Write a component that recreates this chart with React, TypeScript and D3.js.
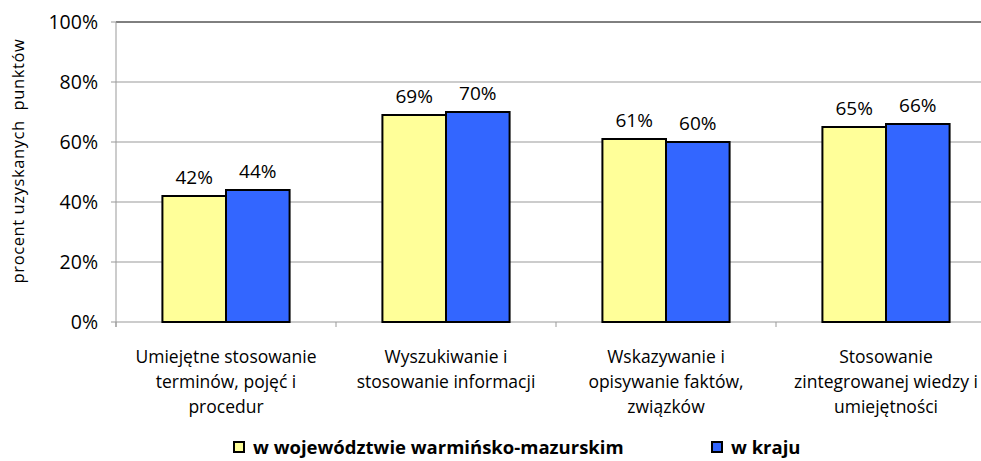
import * as d3 from "d3";

const categories = [
  ["Umiejętne stosowanie", "terminów, pojęć i", "procedur"],
  ["Wyszukiwanie i", "stosowanie informacji"],
  ["Wskazywanie i", "opisywanie faktów,", "związków"],
  ["Stosowanie", "zintegrowanej wiedzy i", "umiejętności"],
];
const seriesNames = ["w województwie warmińsko-mazurskim", "w kraju"];
const regionValues = [42, 69, 61, 65];
const countryValues = [44, 70, 60, 66];
const yTicks = [0, 20, 40, 60, 80, 100];
const colors = ["#FFFF99", "#3366FF"];

const W = 981;
const H = 461;
const FONT = "'Open Sans', 'Noto Sans', sans-serif";

export default function App() {
  const left = 116;
  const right = 996;
  const top = 22;
  const bottom = 322;

  const x = d3
    .scaleBand<number>()
    .domain(d3.range(categories.length))
    .range([left, right])
    .paddingInner(0)
    .paddingOuter(0);
  const y = d3.scaleLinear().domain([0, 100]).range([bottom, top]);
  const inner = d3
    .scaleBand<number>()
    .domain([0, 1])
    .range([0, x.bandwidth()])
    .paddingOuter(0.73)
    .paddingInner(0);

  const series = [regionValues, countryValues];
  const legendX = [234, 712];

  return (
    <svg
      width={W}
      height={H}
      style={{ position: "absolute", left: 0, top: 0, background: "#fff" }}
    >
      {/* gridlines */}
      {yTicks.map((t) => (
        <line
          key={t}
          x1={left}
          x2={W}
          y1={y(t)}
          y2={y(t)}
          stroke={t === 100 ? "#000" : "#999"}
          strokeWidth={1}
        />
      ))}
      <line x1={left} x2={left} y1={top} y2={bottom + 5} stroke="#999" />
      {yTicks.map((t) => (
        <g key={"yt" + t}>
          <line x1={left - 5} x2={left} y1={y(t)} y2={y(t)} stroke="#999" />
          <text
            x={left - 18}
            y={y(t)}
            dy="0.36em"
            textAnchor="end"
            fontFamily={FONT}
            fontSize={19.5}
            fill="#000"
          >
            {t}%
          </text>
        </g>
      ))}
      {d3.range(categories.length + 1).map((i) => {
        const xx = i < categories.length ? x(i)! : right;
        return (
          <line key={"xt" + i} x1={xx} x2={xx} y1={bottom} y2={bottom + 5} stroke="#999" />
        );
      })}
      <text
        transform={`translate(24,161) rotate(-90)`}
        textAnchor="middle"
        fontFamily={FONT}
        fontSize={16.5}
        letterSpacing={0.6}
        fill="#000"
        style={{ whiteSpace: "pre" }}
      >
        procent uzyskanych  punktów
      </text>

      {/* bars */}
      {categories.map((_, i) =>
        series.map((vals, s) => {
          const bx = x(i)! + inner(s)!;
          const bw = inner.bandwidth();
          return (
            <g key={`b${i}-${s}`}>
              <rect
                x={bx}
                y={y(vals[i])}
                width={bw}
                height={bottom - y(vals[i])}
                fill={colors[s]}
                stroke="#000"
                strokeWidth={2}
              />
              <text
                x={bx + bw / 2}
                y={y(vals[i]) - 12}
                textAnchor="middle"
                fontFamily={FONT}
                fontSize={19}
                fill="#000"
              >
                {vals[i]}%
              </text>
            </g>
          );
        })
      )}

      {/* category labels */}
      {categories.map((lines, i) => (
        <text
          key={"c" + i}
          x={x(i)! + x.bandwidth() / 2}
          y={363}
          textAnchor="middle"
          fontFamily={FONT}
          fontSize={17.5}
          fill="#000"
        >
          {lines.map((l, j) => (
            <tspan key={j} x={x(i)! + x.bandwidth() / 2} dy={j === 0 ? 0 : 25}>
              {l}
            </tspan>
          ))}
        </text>
      ))}

      {/* legend */}
      {seriesNames.map((name, s) => {
        const lx = legendX[s];
        return (
          <g key={"l" + s}>
            <rect x={lx} y={442} width={10} height={10} fill={colors[s]} stroke="#000" strokeWidth={2} />
            <text
              x={lx + 19}
              y={454}
              fontFamily={FONT}
              fontSize={18.5}
              fontWeight="bold"
              fill="#000"
            >
              {name}
            </text>
          </g>
        );
      })}
    </svg>
  );
}
